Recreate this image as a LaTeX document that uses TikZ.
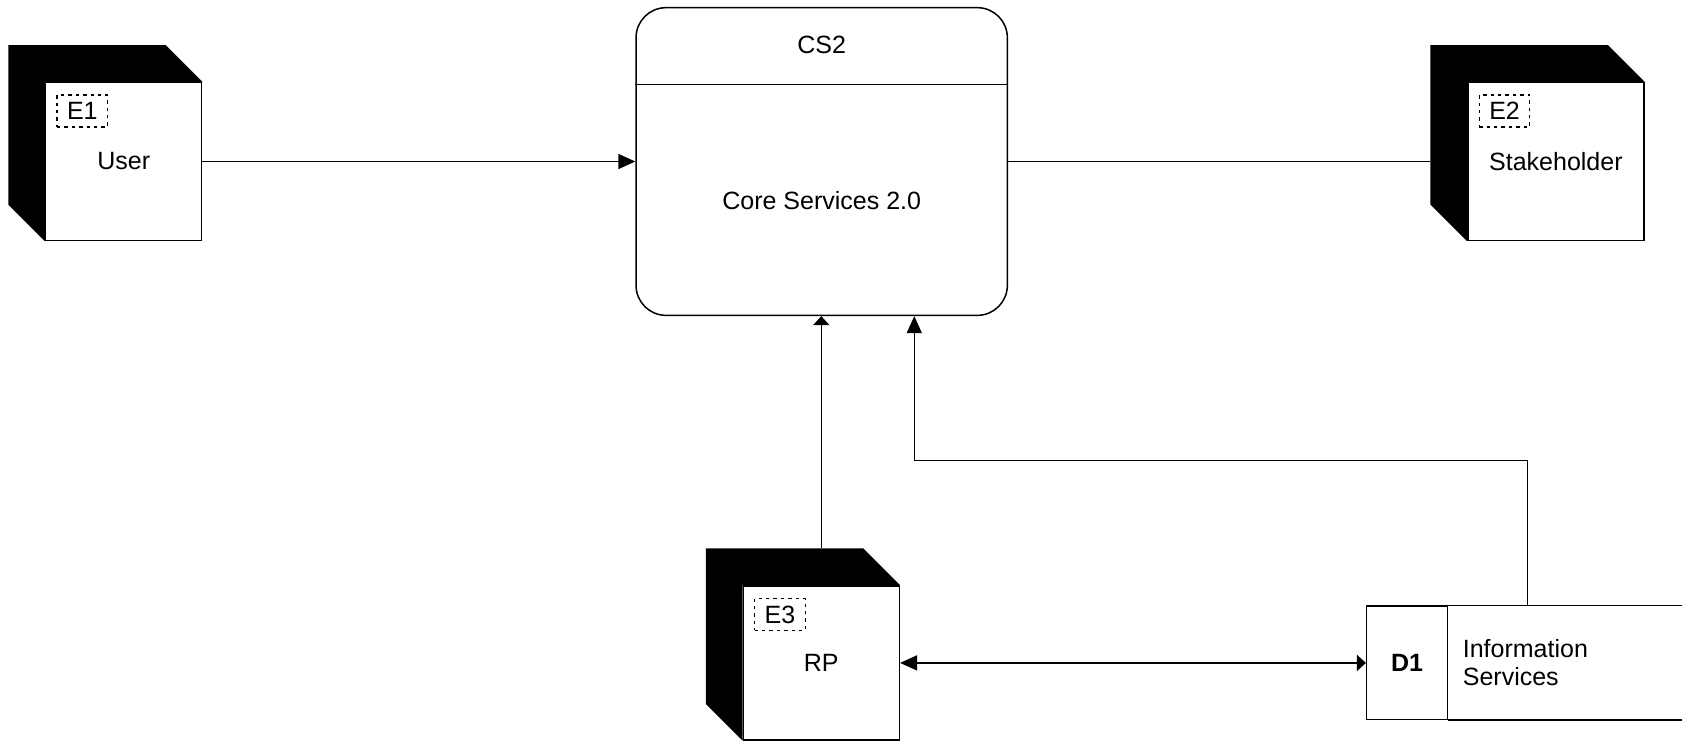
\documentclass[tikz,border=0pt]{standalone}
\usepackage{fontspec}
\setmainfont{Liberation Sans}
\usetikzlibrary{arrows.meta}
\tikzset{%
   process/.style={draw, rounded corners=15pt, minimum width=185.65pt, minimum height=153.85pt},
   entity/.style={draw, fill=white, minimum height=79pt},
   idbox/.style={draw, line width=0.6pt, dash pattern=on 1.7pt off 2pt, anchor=north west, inner xsep=5pt, minimum height=16pt},
   store/.style={draw, minimum width=40.3pt, minimum height=56.65pt},
   flowbig/.style={-{Triangle[length=8.5pt,width=7.5pt]}},
   flowsmall/.style={-{Triangle[length=4.5pt,width=8pt]}},
   flowboth/.style={{Triangle[length=8.5pt,width=7.5pt]}-{Triangle[length=4.5pt,width=8pt]}}
}
\begin{document}
\begin{tikzpicture}[x=0.5pt,y=-0.5pt,line width=0.75pt,font=\fontsize{12.5}{14}\selectfont]%
      \useasboundingbox (0,0) rectangle (1682,741);%
      % ~ process
      \node[process] (cs2) at (821.7,161.5) {};%
      \node (cs2title) at ([shift={(0,38)}]cs2.north) {CS2};%
      \node (cs2body) at ([shift={(0,38.8)}]cs2.center) {Core Services 2.0};%
      \draw ([shift={(0,77.7)}]cs2.north west) -- ([shift={(0,77.7)}]cs2.north east);%
      % ~ entities
      \node[entity, minimum width=78pt] (e1) at (123.7,161.5) {User};%
      \node[entity, minimum width=88pt] (e2) at (1555.9,161.5) {Stakeholder};%
      \node[entity, minimum width=78pt, minimum height=77pt] (rp) at (821.3,662.9) {RP};%
      % shade
      \foreach \n in {e1,e2,rp}%
         {%
            \fill ([shift={(-36.7,-36.7)}]\n.north west) -- ([shift={(-36.7,-36.7)}]\n.north east)
               -- (\n.north east) -- (\n.north west) -- (\n.south west)
               -- ([shift={(-36.7,-36.7)}]\n.south west) -- cycle;%
         }%
      % ids
      \foreach \n/\t in {e1/E1,e2/E2,rp/E3}%
         {%
            \node[idbox] (\n-id) at ([shift={(11.5,12.7)}]\n.north west) {\t};%
         }%
      % ~ store
      \node[store] (d1) at (1407,662.7) {\bfseries D1};%
      \node[anchor=west, align=left] (d1info) at ([shift={(7.4,0)}]d1.east) {Information\\Services};%
      \coordinate (rim) at (1682,0);%
      \draw (d1.north east) -- (d1.north east -| rim);%
      \draw (d1.south east) -- (d1.south east -| rim);%
      % ~ flows
      \coordinate (rptop) at ([shift={(0,-36.7)}]rp.north);%
      \coordinate (d1top) at ([shift={(79.4,0)}]d1.north east);%
      \coordinate (e2side) at ([shift={(-36.7,0)}]e2.west);%
      \draw[flowbig] (e1.east) -- (e1.east -| cs2.west);%
      \draw (cs2.east) -- (cs2.east -| e2side);%
      \draw[flowsmall] (rptop) -- (rptop |- cs2.south);%
      \draw[flowbig] (d1top) -- ++(0,-145) -| ([shift={(92.6,0)}]cs2.south);%
      \draw[flowboth] (rp.east) -- (rp.east -| d1.west);%
   \end{tikzpicture}
\end{document}
